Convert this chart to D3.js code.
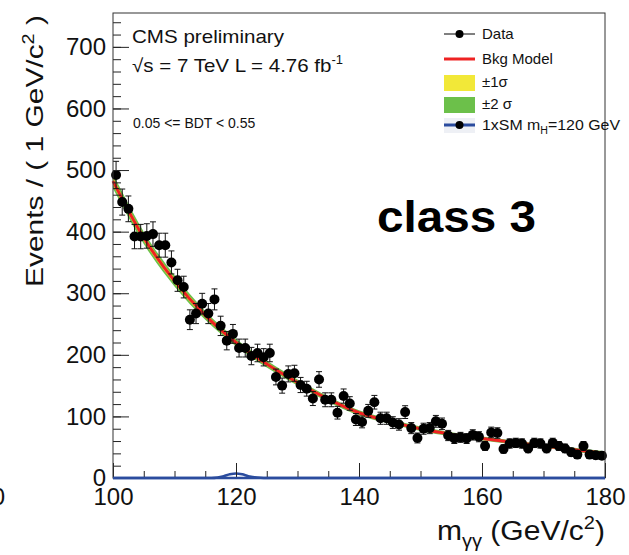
<!DOCTYPE html>
<html>
<head>
<meta charset="utf-8">
<script src="https://cdn.jsdelivr.net/npm/d3@7"></script>
<style>
  body { margin: 0; background: #fff; }
  svg { display: block; font-family: "Liberation Sans", Arial, Helvetica, sans-serif; }
</style>
</head>
<body>
<div id="chart"></div>
<script>
// diphoton mass spectrum, 1 GeV bins from 100 to 180
var binCenters = d3.range(100.5, 180, 1);
var counts = [492, 448, 437, 392, 392, 393, 396, 378, 378, 350,
              321, 310, 257, 267, 283, 267, 290, 247, 223, 234,
              211, 211, 198, 203, 196, 203, 164, 150, 169, 170,
              151, 145, 129, 160, 127, 127, 106, 133, 121, 95,
              91, 109, 123, 97, 97, 90, 87, 107, 81, 65,
              80, 81, 92, 88, 69, 64, 66, 64, 70, 67,
              52, 74, 73, 47, 56, 57, 56, 48, 57, 56,
              48, 57, 52, 48, 42, 38, 52, 38, 37, 36];

// background model and its uncertainty, read at 5 GeV steps
var modelMass = [100, 105, 110, 115, 120, 125, 130, 135, 140, 145, 150, 155, 160, 165, 170, 175, 180];
var modelValue = [482, 390, 320, 264, 220, 185, 155, 128, 106, 92, 80, 71, 64, 58, 52, 46, 40];
var modelSigma = [6, 5, 4.5, 3.5, 3, 2.8, 2.5, 2.2, 2, 1.9, 1.8, 1.7, 1.6, 1.6, 1.5, 1.6, 1.8];

// signal expectation, 1xSM mH = 120 GeV
var sigMass = [100, 116, 117, 118, 119, 120, 121, 122, 123, 124, 125, 180];
var sigValue = [0, 0, 0.8, 3, 6, 7.5, 6, 3, 1.2, 0.3, 0, 0];

var yMajor = [0, 100, 200, 300, 400, 500, 600, 700];
var xMajor = [100, 120, 140, 160, 180];

var W = 629, H = 555;
// plot frame (window.top is read-only, so own names)
var pL = 113, pR = 605, pT = 13, pB = 478;

var svg = d3.select("#chart").append("svg")
  .attr("width", W)
  .attr("height", H);

var x = d3.scaleLinear().domain([100, 180]).range([pL, pR]);
var y = d3.scaleLinear().domain([0, 755]).range([pB, pT]);

var pts = modelMass.map(function(m, i) {
  return { m: m, v: modelValue[i], s: modelSigma[i] };
});

// +-2 sigma and +-1 sigma bands
var band = function(k) {
  return d3.area()
    .x(function(d) { return x(d.m); })
    .y0(function(d) { return y(d.v - k * d.s); })
    .y1(function(d) { return y(d.v + k * d.s); })
    .curve(d3.curveMonotoneX);
};
svg.append("path").datum(pts).attr("d", band(2)).attr("fill", "#6cc04a");
svg.append("path").datum(pts).attr("d", band(1)).attr("fill", "#f2e838");

svg.append("path").datum(pts)
  .attr("d", d3.line()
    .x(function(d) { return x(d.m); })
    .y(function(d) { return y(d.v); })
    .curve(d3.curveMonotoneX))
  .attr("fill", "none")
  .attr("stroke", "#ee2222")
  .attr("stroke-width", 3);

// signal shape lies on the x axis
svg.append("path").datum(sigMass.map(function(m, i) { return [m, sigValue[i]]; }))
  .attr("d", d3.line()
    .x(function(d) { return x(d[0]); })
    .y(function(d) { return y(d[1]); })
    .curve(d3.curveMonotoneX))
  .attr("fill", "none")
  .attr("stroke", "#2b4c9e")
  .attr("stroke-width", 2.5);

// data with poisson error bars
var data = binCenters.map(function(c, i) { return { c: c, n: counts[i] }; });
var pt = svg.append("g");
pt.selectAll("line.err")
  .data(data).enter().append("line")
  .attr("x1", function(d) { return x(d.c); })
  .attr("x2", function(d) { return x(d.c); })
  .attr("y1", function(d) { return y(d.n - Math.sqrt(d.n)); })
  .attr("y2", function(d) { return y(d.n + Math.sqrt(d.n)); })
  .attr("stroke", "#111").attr("stroke-width", 1);
[-1, 1].forEach(function(sgn) {
  pt.selectAll(null)
    .data(data).enter().append("line")
    .attr("x1", function(d) { return x(d.c) - 3; })
    .attr("x2", function(d) { return x(d.c) + 3; })
    .attr("y1", function(d) { return y(d.n + sgn * Math.sqrt(d.n)); })
    .attr("y2", function(d) { return y(d.n + sgn * Math.sqrt(d.n)); })
    .attr("stroke", "#111").attr("stroke-width", 1);
});
pt.selectAll("circle")
  .data(data).enter().append("circle")
  .attr("cx", function(d) { return x(d.c); })
  .attr("cy", function(d) { return y(d.n); })
  .attr("r", 5)
  .attr("fill", "#000");

// axes, ticks point into the frame
svg.append("g").attr("transform", "translate(" + pL + ",0)")
  .call(d3.axisLeft(y).tickValues(yMajor).tickSize(-16).tickSizeOuter(0).tickPadding(7));
svg.append("g").attr("transform", "translate(" + pL + ",0)")
  .call(d3.axisLeft(y).tickValues(d3.range(20, 755, 20)).tickSize(-8).tickSizeOuter(0).tickFormat(""));
svg.append("g").attr("transform", "translate(0," + pB + ")")
  .call(d3.axisBottom(x).tickValues(xMajor).tickSize(-15).tickSizeOuter(0).tickPadding(10));
svg.append("g").attr("transform", "translate(0," + pB + ")")
  .call(d3.axisBottom(x).tickValues(d3.range(105, 180, 5)).tickSize(-7).tickSizeOuter(0).tickFormat(""));

svg.selectAll(".domain").remove();
svg.selectAll(".tick line").attr("stroke", "#222");
svg.selectAll(".tick text").attr("font-size", 24).attr("fill", "#111")
  .attr("font-family", "Liberation Sans, Arial, sans-serif");

svg.append("rect")
  .attr("x", pL).attr("y", pT)
  .attr("width", pR - pL).attr("height", pB - pT)
  .attr("fill", "none").attr("stroke", "#333").attr("stroke-width", 1);
svg.append("line")
  .attr("x1", pL).attr("x2", pR).attr("y1", pB).attr("y2", pB)
  .attr("stroke", "#2b4c9e").attr("stroke-width", 2.5);

// cut off label of the neighbouring panel
svg.append("text").attr("x", 5).attr("y", 505).attr("text-anchor", "end")
  .attr("font-size", 24).attr("fill", "#111").text("0");

// titles
svg.append("text")
  .attr("transform", "translate(43,151) rotate(-90)")
  .attr("text-anchor", "middle")
  .attr("font-size", 24).attr("fill", "#111")
  .attr("textLength", 272).attr("lengthAdjust", "spacingAndGlyphs")
  .call(function(t) {
    t.append("tspan").text("Events / ( 1 GeV/c");
    t.append("tspan").attr("font-size", 16).attr("dy", -9).text("2");
    t.append("tspan").attr("dy", 9).text(" )");
  });

svg.append("text")
  .attr("x", pR).attr("y", 540).attr("text-anchor", "end")
  .attr("font-size", 27).attr("fill", "#111")
  .attr("textLength", 168).attr("lengthAdjust", "spacingAndGlyphs")
  .call(function(t) {
    t.append("tspan").text("m");
    t.append("tspan").attr("font-size", 18).attr("dy", 7).text("γγ");
    t.append("tspan").attr("dy", -7).text(" (GeV/c");
    t.append("tspan").attr("font-size", 18).attr("dy", -11).text("2");
    t.append("tspan").attr("dy", 11).text(")");
  });

svg.append("text").attr("x", 132).attr("y", 43)
  .attr("font-size", 19).attr("fill", "#111")
  .attr("textLength", 152).attr("lengthAdjust", "spacingAndGlyphs")
  .text("CMS preliminary");

svg.append("text").attr("x", 132).attr("y", 72)
  .attr("font-size", 19).attr("fill", "#111")
  .attr("textLength", 211).attr("lengthAdjust", "spacingAndGlyphs")
  .call(function(t) {
    t.append("tspan").text("√s = 7 TeV L = 4.76 fb");
    t.append("tspan").attr("font-size", 12).attr("dy", -8).text("-1");
  });

svg.append("text").attr("x", 133).attr("y", 128)
  .attr("font-size", 14).attr("fill", "#111")
  .text("0.05 <= BDT < 0.55");

svg.append("text").attr("x", 377).attr("y", 232)
  .attr("font-size", 44).attr("font-weight", "bold").attr("fill", "#000")
  .attr("textLength", 159).attr("lengthAdjust", "spacingAndGlyphs")
  .text("class 3");

// legend
var lg = svg.append("g");
var lx0 = 444, lx1 = 475, tx = 482;
lg.append("line").attr("x1", lx0).attr("x2", lx1).attr("y1", 34).attr("y2", 34)
  .attr("stroke", "#000").attr("stroke-width", 1);
lg.append("circle").attr("cx", 459.5).attr("cy", 34).attr("r", 4).attr("fill", "#000");
lg.append("line").attr("x1", lx0).attr("x2", lx1).attr("y1", 59).attr("y2", 59)
  .attr("stroke", "#ee2222").attr("stroke-width", 3);
lg.append("rect").attr("x", lx0).attr("y", 75).attr("width", lx1 - lx0).attr("height", 16)
  .attr("fill", "#f2e838");
lg.append("rect").attr("x", lx0).attr("y", 97).attr("width", lx1 - lx0).attr("height", 16)
  .attr("fill", "#6cc04a");
lg.append("rect").attr("x", lx0).attr("y", 118).attr("width", lx1 - lx0).attr("height", 15)
  .attr("fill", "#eef0f5");
lg.append("line").attr("x1", lx0).attr("x2", lx1).attr("y1", 125).attr("y2", 125)
  .attr("stroke", "#2b4c9e").attr("stroke-width", 3);
lg.append("circle").attr("cx", 459.5).attr("cy", 125).attr("r", 4).attr("fill", "#000");

var legTexts = [["Data", 39], ["Bkg Model", 64], ["±1σ", 87], ["±2 σ", 109]];
lg.selectAll("text.lab")
  .data(legTexts).enter().append("text")
  .attr("x", tx).attr("y", function(d) { return d[1]; })
  .attr("font-size", 15).attr("fill", "#111")
  .text(function(d) { return d[0]; });
lg.append("text").attr("x", tx).attr("y", 130)
  .attr("font-size", 15).attr("fill", "#111")
  .attr("textLength", 138).attr("lengthAdjust", "spacingAndGlyphs")
  .call(function(t) {
    t.append("tspan").text("1xSM m");
    t.append("tspan").attr("font-size", 10).attr("dy", 4).text("H");
    t.append("tspan").attr("dy", -4).text("=120 GeV");
  });
</script>
</body>
</html>
